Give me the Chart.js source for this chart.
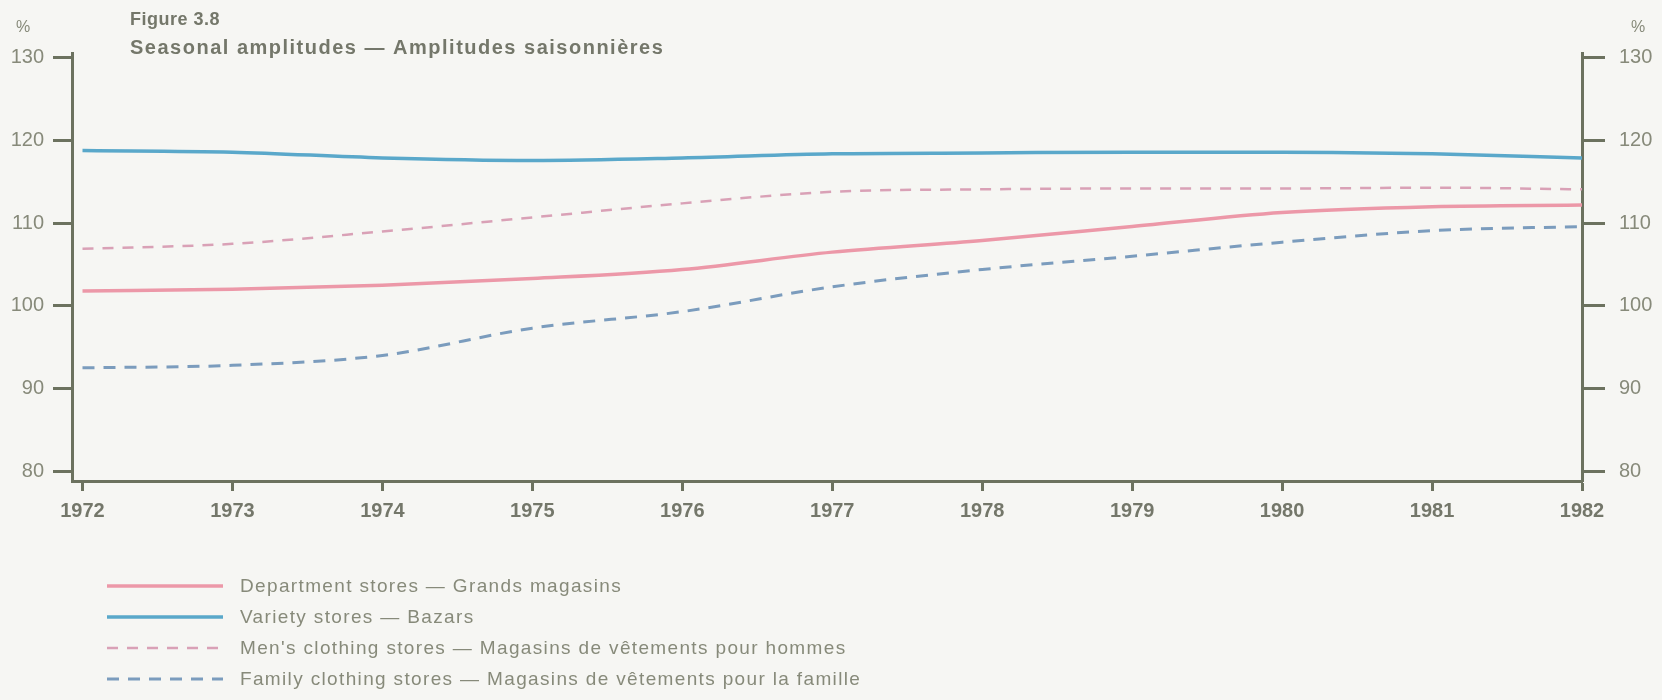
<!DOCTYPE html>
<html lang="fr">
<head>
<meta charset="utf-8">
<title>Figure 3.8</title>
<script src="https://cdn.jsdelivr.net/npm/chart.js@4.4.1/dist/chart.umd.min.js"></script>
<style>
  html, body { margin: 0; padding: 0; background: #f6f6f3; }
  #contenedor { position: relative; width: 1662px; height: 700px; }
</style>
</head>
<body>
<div id="contenedor"><canvas id="miGrafico" width="1662" height="700"></canvas></div>
<script>
// Datos
var years = [1972, 1973, 1974, 1975, 1976, 1977, 1978, 1979, 1980, 1981, 1982];
var yTicks = [80, 90, 100, 110, 120, 130];
var departmentStores = [101.8, 102.0, 102.5, 103.3, 104.4, 106.5, 107.9, 109.6, 111.3, 112.0, 112.2];
var varietyStores = [118.8, 118.6, 117.9, 117.6, 117.9, 118.4, 118.5, 118.6, 118.6, 118.4, 117.9];
var mensClothing = [106.9, 107.5, 109.0, 110.7, 112.4, 113.8, 114.1, 114.2, 114.2, 114.3, 114.1];
var familyClothing = [92.5, 92.8, 94.0, 97.3, 99.3, 102.3, 104.4, 106.0, 107.7, 109.1, 109.6];
var seriesLabels = [
  'Department stores — Grands magasins',
  'Variety stores — Bazars',
  "Men's clothing stores — Magasins de vêtements pour hommes",
  'Family clothing stores — Magasins de vêtements pour la famille'
];
var titleLines = ['Figure 3.8', 'Seasonal amplitudes — Amplitudes saisonnières'];
var unitLabel = '%';

document.addEventListener('DOMContentLoaded', function () {
  var ctx = document.getElementById('miGrafico').getContext('2d');

  var fuente = "'Liberation Sans', Arial, Helvetica, sans-serif";
  var colorEje = '#6c725f';
  var colorTexto = '#878a7a';
  var colorTitulo = '#74776a';

  function puntos(valores) {
    return valores.map(function (v, i) { return { x: years[i], y: v }; });
  }

  function ticksFijos(lista) {
    return function (scale) {
      scale.ticks = lista.map(function (v) { return { value: v }; });
    };
  }

  // Titulo, simbolos de porcentaje y leyenda dibujados sobre el lienzo
  var textosPlugin = {
    id: 'textos',
    afterDraw: function (chart) {
      var c = chart.ctx;
      c.save();
      c.textBaseline = 'middle';
      c.textAlign = 'left';
      c.fillStyle = colorTitulo;
      c.font = 'bold 18px ' + fuente;
      c.letterSpacing = '0.5px';
      c.fillText(titleLines[0], 130, 20);
      c.font = 'bold 20px ' + fuente;
      c.letterSpacing = '1.5px';
      c.fillText(titleLines[1], 130, 48);

      c.fillStyle = colorTexto;
      c.font = '16px ' + fuente;
      c.letterSpacing = '0px';
      c.textAlign = 'center';
      c.fillText(unitLabel, 23, 28);
      c.fillText(unitLabel, 1638, 28);

      // Leyenda
      c.textAlign = 'left';
      c.font = '19px ' + fuente;
      c.letterSpacing = '1.35px';
      chart.data.datasets.forEach(function (ds, i) {
        var y = 586 + i * 31;
        c.beginPath();
        c.strokeStyle = ds.borderColor;
        c.lineWidth = ds.borderWidth;
        c.setLineDash(ds.borderDash || []);
        c.moveTo(107, y);
        c.lineTo(223, y);
        c.stroke();
        c.setLineDash([]);
        c.fillStyle = colorTexto;
        c.fillText(ds.label, 240, y + 1);
      });
      c.restore();
    }
  };

  var ejeY = function (posicion, ancho, largoTick, relleno) {
    return {
      position: posicion,
      display: true,
      min: 78.8,
      max: 130.6,
      afterBuildTicks: ticksFijos(yTicks),
      afterFit: function (scale) { scale.width = ancho; },
      border: { display: true, color: colorEje, width: 3 },
      grid: { drawOnChartArea: false, drawTicks: true, tickLength: largoTick, tickColor: colorEje, tickWidth: 3 },
      ticks: {
        color: colorTexto,
        padding: relleno,
        font: { family: fuente, size: 20 },
        callback: function (v) { return String(v); }
      }
    };
  };

  new Chart(ctx, {
    type: 'line',
    data: {
      datasets: [{
        label: seriesLabels[0],
        data: puntos(departmentStores),
        borderColor: '#ec98a8',
        borderWidth: 3.5
      }, {
        label: seriesLabels[1],
        data: puntos(varietyStores),
        borderColor: '#5aa8ca',
        borderWidth: 3.5
      }, {
        label: seriesLabels[2],
        data: puntos(mensClothing),
        borderColor: '#d9a1b6',
        borderWidth: 2.5,
        borderDash: [11, 9]
      }, {
        label: seriesLabels[3],
        data: puntos(familyClothing),
        borderColor: '#7b9cbd',
        borderWidth: 3,
        borderDash: [12, 9]
      }]
    },
    options: {
      responsive: false,
      animation: false,
      layout: { padding: { top: 53, bottom: 159, left: 0, right: 0 } },
      elements: {
        point: { radius: 0 },
        line: { tension: 0.4, cubicInterpolationMode: 'monotone' }
      },
      plugins: {
        legend: { display: false },
        tooltip: { enabled: false }
      },
      scales: {
        x: {
          type: 'linear',
          min: 1971.93,
          max: 1982,
          afterBuildTicks: ticksFijos(years),
          afterFit: function (scale) { scale.height = 60; },
          border: { display: true, color: colorEje, width: 3 },
          grid: { drawOnChartArea: false, drawTicks: true, tickLength: 10, tickColor: colorEje, tickWidth: 3 },
          ticks: {
            color: colorTitulo,
            padding: 8,
            maxRotation: 0,
            autoSkip: false,
            font: { family: fuente, size: 20, weight: 'bold' },
            callback: function (v) { return String(v); }
          }
        },
        y: ejeY('left', 72, 19, 9),
        y2: ejeY('right', 80, 23, 14)
      }
    },
    plugins: [textosPlugin]
  });
});
</script>
</body>
</html>
